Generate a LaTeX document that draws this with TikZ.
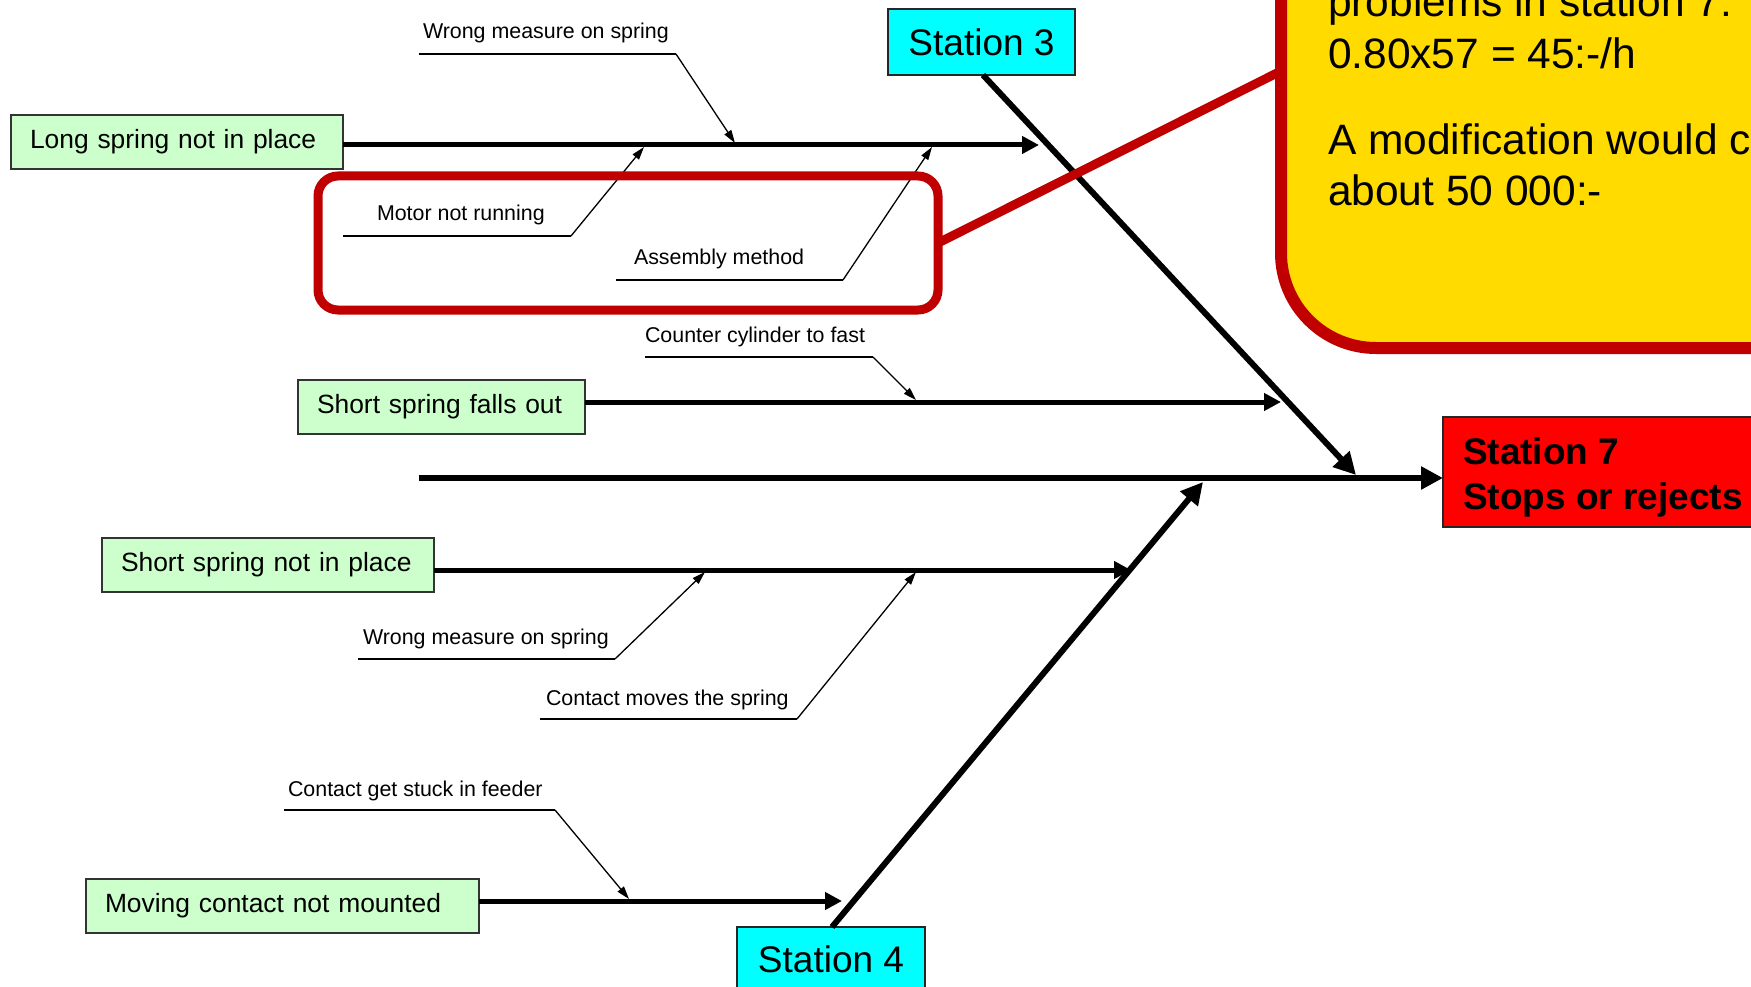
\documentclass[tikz,border=0pt]{standalone}
\usepackage{fontspec}
\setmainfont{Liberation Sans}
\usetikzlibrary{arrows.meta}

\definecolor{boxgreen}{HTML}{CCFFCC}
\definecolor{stcyan}{HTML}{00FFFF}
\definecolor{stred}{HTML}{FF0000}
\definecolor{noteyellow}{HTML}{FFDB00}
\definecolor{darkred}{HTML}{C00000}

\begin{document}
\begin{tikzpicture}[x=1pt,y=-1pt,
  every node/.style={outer sep=0pt},
  causebox/.style={draw=black!80, line width=1.5pt, fill=boxgreen, inner xsep=19pt,
    inner ysep=0pt, align=left, anchor=north west, minimum height=54pt,
    font=\fontsize{26.4}{30}\selectfont},
  stationbox/.style={draw=black!85, line width=1.5pt, fill=stcyan, inner sep=0pt,
    anchor=north west, font=\fontsize{37}{42}\selectfont},
  smalllabel/.style={anchor=base west, inner sep=0pt, font=\fontsize{21.4}{25}\selectfont},
  branch/.style={line width=5pt, -{Triangle[length=17pt,width=17pt]}},
  spine/.style={line width=6.5pt, -{Triangle[length=22pt,width=22pt]}},
  underline/.style={line width=2.2pt},
  leader/.style={line width=1.3pt, -{Triangle[length=13pt,width=8pt]}},
  notetext/.style={anchor=base west, inner sep=0pt, font=\fontsize{42.5}{51}\selectfont},
  effecttext/.style={anchor=base west, inner sep=0pt, font=\bfseries\fontsize{37}{45}\selectfont},
]
\useasboundingbox (0,0) rectangle (1751,987);
\clip (0,0) rectangle (1751,987);
\fill[white] (0,0) rectangle (1751,987);

% ---------- note box (top right) ----------
\node[draw=darkred, line width=12pt, fill=noteyellow, rounded corners=95pt,
      minimum width=700pt, minimum height=700pt, anchor=south west] (note) at (1281,348) {};
\node[notetext] (n1) at (1328,17) {problems in station 7:};
\node[notetext] (n2) at (1328,69) {0.80x57 = 45:-/h};
\node[notetext] (n3) at (1328,155) {A modification would cost};
\node[notetext] (n4) at (1328,206) {about 50 000:-};

% ---------- effect box ----------
\node[draw=black!85, line width=1.5pt, fill=stred, anchor=north west,
      minimum width=420pt, minimum height=110pt] (s7) at (1443,417) {};
\node[effecttext] (s7a) at (1463,464) {Station 7};
\node[effecttext] (s7b) at (1463,509) {Stops or rejects};

% ---------- station boxes ----------
\node[stationbox, minimum width=187pt, minimum height=66pt] (s3) at (888,9) {Station 3};
\node[stationbox, minimum width=188pt, minimum height=64pt] (s4) at (737,927) {Station 4};

% ---------- cause boxes ----------
\node[causebox, text width=294pt] (c1) at (11,115) {Long spring not in place};
\node[causebox, text width=249pt] (c2) at (298,380) {Short spring falls out};
\node[causebox, text width=294pt] (c3) at (102,538) {Short spring not in place};
\node[causebox, text width=355pt] (c4) at (86,879) {Moving contact not mounted};

% ---------- spine and bones ----------
\coordinate (spinestart) at (419,478);
\draw[spine] (spinestart) -- (s7.west |- spinestart);

\coordinate (s3end) at (1356,475);
\coordinate (s4end) at (1203,482);
\draw[spine, line width=6pt] (s3.south -| 983,0) -- (s3end);
\draw[spine, line width=6pt] (s4.north -| 832,0) -- (s4end);

\coordinate (b1) at (1039,145);
\coordinate (b2) at (1281,402);
\coordinate (b3) at (1131,570);
\coordinate (b4) at (842,901);
\draw[branch] (c1.east |- b1) -- (b1);
\draw[branch] (c2.east |- b2) -- (b2);
\draw[branch] (c3.east |- b3) -- (b3);
\draw[branch] (c4.east |- b4) -- (b4);

% ---------- sub-causes ----------
\node[smalllabel] (l1) at (423,39) {Wrong measure on spring};
\coordinate (u1a) at (419,54); \coordinate (u1b) at (676,54); \coordinate (t1) at (735,143);
\draw[underline] (u1a) -- (u1b); \draw[leader] (u1b) -- (t1);

\node[smalllabel] (l2) at (377,221) {Motor not running};
\coordinate (u2a) at (343,236); \coordinate (u2b) at (571,236); \coordinate (t2) at (644,147);
\draw[underline] (u2a) -- (u2b); \draw[leader] (u2b) -- (t2);

\node[smalllabel] (l3) at (634,265) {Assembly method};
\coordinate (u3a) at (616,280); \coordinate (u3b) at (843,280); \coordinate (t3) at (932,147);
\draw[underline] (u3a) -- (u3b); \draw[leader] (u3b) -- (t3);

\node[smalllabel] (l4) at (645,342) {Counter cylinder to fast};
\coordinate (u4a) at (645,357); \coordinate (u4b) at (873,357); \coordinate (t4) at (916,400);
\draw[underline] (u4a) -- (u4b); \draw[leader] (u4b) -- (t4);

\node[smalllabel] (l5) at (363,644) {Wrong measure on spring};
\coordinate (u5a) at (358,659); \coordinate (u5b) at (615,659); \coordinate (t5) at (705,572);
\draw[underline] (u5a) -- (u5b); \draw[leader] (u5b) -- (t5);

\node[smalllabel] (l6) at (546,705) {Contact moves the spring};
\coordinate (u6a) at (540,719); \coordinate (u6b) at (797,719); \coordinate (t6) at (916,572);
\draw[underline] (u6a) -- (u6b); \draw[leader] (u6b) -- (t6);

\node[smalllabel] (l7) at (288,796) {Contact get stuck in feeder};
\coordinate (u7a) at (284,810); \coordinate (u7b) at (555,810); \coordinate (t7) at (629,899);
\draw[underline] (u7a) -- (u7b); \draw[leader] (u7b) -- (t7);

% ---------- highlight frame and link to the note ----------
\node[draw=darkred, line width=9pt, rounded corners=20pt, minimum width=620pt,
      minimum height=134pt, anchor=north west, inner sep=0pt] (focus) at (318,176) {};
\coordinate (link) at (1285,69);
\draw[darkred, line width=9pt] (focus.east) -- (link);
\end{tikzpicture}
\end{document}
